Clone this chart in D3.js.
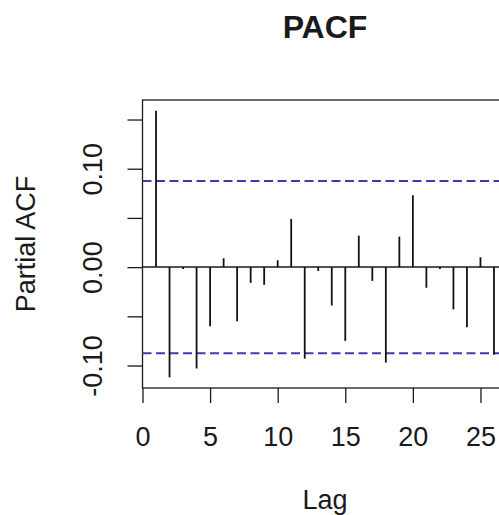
<!DOCTYPE html>
<html>
<head>
<meta charset="utf-8">
<script src="https://cdn.jsdelivr.net/npm/d3@7"></script>
<style>
  html, body { margin: 0; padding: 0; background: #fff; }
  svg { display: block; }
  text { font-family: "Liberation Sans", Arial, sans-serif; fill: #1a1a1a; }
</style>
</head>
<body>
<svg id="chart" width="499" height="515"></svg>
<script>
// Partial autocorrelation by lag
const lags = [1, 2, 3, 4, 5, 6, 7, 8, 9, 10, 11, 12, 13, 14, 15, 16, 17, 18, 19, 20, 21, 22, 23, 24, 25, 26];
const pacfValues = [0.159, -0.112, -0.002, -0.103, -0.060, 0.009, -0.055, -0.016, -0.018, 0.007,
                    0.049, -0.093, -0.004, -0.039, -0.075, 0.032, -0.014, -0.097, 0.031, 0.073,
                    -0.021, -0.002, -0.043, -0.061, 0.010, -0.089];
const confLimit = 0.0875;
const xTicks = [0, 5, 10, 15, 20, 25];
const xTickLabels = ["0", "5", "10", "15", "20", "25"];
const yTicks = [-0.10, -0.05, 0.00, 0.05, 0.10, 0.15];
const yTickLabels = ["-0.10", "", "0.00", "", "0.10", ""];
const title = "PACF";
const xLabel = "Lag";
const yLabel = "Partial ACF";

const svg = d3.select("#chart");
const plot = { left: 142.5, right: 507.5, top: 100, bottom: 388 };

// Ranges padded by 4% on each side
const pad = (lo, hi) => { const e = (hi - lo) * 0.04; return [lo - e, hi + e]; };
const x = d3.scaleLinear().domain(pad(d3.min(lags), d3.max(lags))).range([plot.left, plot.right]);
const yLo = Math.min(d3.min(pacfValues), -confLimit), yHi = Math.max(d3.max(pacfValues), confLimit);
const y = d3.scaleLinear().domain(pad(yLo, yHi)).range([plot.bottom, plot.top]);

// Frame
svg.append("rect")
  .attr("x", plot.left).attr("y", plot.top)
  .attr("width", plot.right - plot.left).attr("height", plot.bottom - plot.top)
  .attr("fill", "none").attr("stroke", "#1a1a1a").attr("stroke-width", 1.3);

// Zero line
svg.append("line")
  .attr("x1", plot.left).attr("x2", plot.right)
  .attr("y1", y(0)).attr("y2", y(0))
  .attr("stroke", "#1a1a1a").attr("stroke-width", 1.5);

// Significance bounds
svg.selectAll("line.ci").data([confLimit, -confLimit]).enter().append("line")
  .attr("class", "ci")
  .attr("x1", plot.left).attr("x2", plot.right)
  .attr("y1", d => y(d)).attr("y2", d => y(d))
  .attr("stroke", "#3c3cb0").attr("stroke-width", 1.8)
  .attr("stroke-dasharray", "9,4.5");

// Spikes
svg.selectAll("line.spike").data(lags).enter().append("line")
  .attr("class", "spike")
  .attr("x1", d => x(d)).attr("x2", d => x(d))
  .attr("y1", y(0)).attr("y2", (d, i) => y(pacfValues[i]))
  .attr("stroke", "#111").attr("stroke-width", 1.8);

// Axes
const xAxis = d3.axisBottom(x).tickValues(xTicks)
  .tickFormat((d, i) => xTickLabels[i]).tickSize(15).tickPadding(24).tickSizeOuter(0);
const gx = svg.append("g").attr("transform", `translate(0,${plot.bottom})`).call(xAxis);
gx.select(".domain").remove();
gx.selectAll(".tick line").attr("stroke", "#1a1a1a").attr("stroke-width", 1.3);
gx.selectAll(".tick text").attr("font-size", 27).attr("fill", "#1a1a1a");

const yAxis = d3.axisLeft(y).tickValues(yTicks)
  .tickFormat((d, i) => yTickLabels[i]).tickSize(15).tickSizeOuter(0);
const gy = svg.append("g").attr("transform", `translate(${plot.left},0)`).call(yAxis);
gy.select(".domain").remove();
gy.selectAll(".tick line").attr("stroke", "#1a1a1a").attr("stroke-width", 1.3);
gy.selectAll(".tick text")
  .attr("font-size", 27).attr("fill", "#1a1a1a")
  .attr("x", null).attr("dy", null)
  .attr("text-anchor", "middle")
  .attr("transform", "translate(-41,0) rotate(-90)");

const cx = (plot.left + plot.right) / 2;

// Title and axis titles
svg.append("text")
  .attr("x", cx).attr("y", 38)
  .attr("text-anchor", "middle")
  .attr("font-size", 32).attr("font-weight", "bold")
  .text(title);

svg.append("text")
  .attr("x", cx).attr("y", 509)
  .attr("text-anchor", "middle")
  .attr("font-size", 27)
  .text(xLabel);

svg.append("text")
  .attr("transform", `translate(35,${(plot.top + plot.bottom) / 2}) rotate(-90)`)
  .attr("text-anchor", "middle")
  .attr("font-size", 27)
  .text(yLabel);
</script>
</body>
</html>
